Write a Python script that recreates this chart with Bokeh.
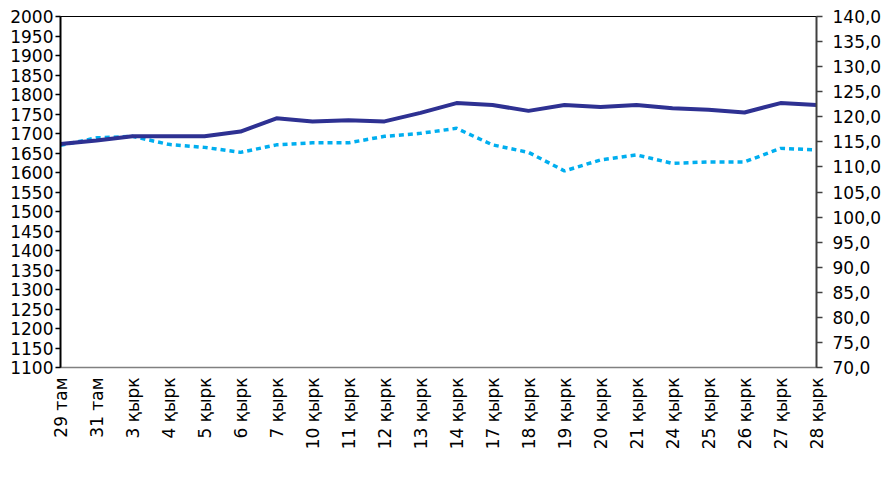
from bokeh.plotting import figure
from bokeh.models import Range1d, LinearAxis, FixedTicker, Legend, LegendItem
from bokeh.embed import file_html
from bokeh.resources import INLINE

dates = ["29 там", "31 там", "3 қырк", "4 қырк", "5 қырк", "6 қырк", "7 қырк",
         "10 қырк", "11 қырк", "12 қырк", "13 қырк", "14 қырк", "17 қырк", "18 қырк",
         "19 қырк", "20 қырк", "21 қырк", "24 қырк", "25 қырк", "26 қырк", "27 қырк", "28 қырк"]
gold = [1673, 1682, 1693, 1693, 1693, 1705, 1739, 1731, 1734, 1731, 1753, 1778,
        1773, 1758, 1773, 1768, 1773, 1765, 1761, 1754, 1778, 1773]
oil = [114.3, 115.8, 116.1, 114.5, 113.9, 112.9, 114.4, 114.8, 114.8, 116.1, 116.7, 117.7,
       114.4, 112.9, 109.2, 111.4, 112.4, 110.7, 111.0, 111.0, 113.7, 113.4]
left_ticks = list(range(1100, 2001, 50))
right_ticks = list(range(70, 141, 5))

FONT = "DejaVu Sans"
FS = "17px"
x = list(range(len(dates)))

p = figure(frame_width=756, frame_height=351, output_backend="svg", toolbar_location=None,
           x_range=Range1d(0, len(dates) - 1), y_range=Range1d(1100, 2000),
           min_border_left=60, min_border_right=68, min_border_top=16, min_border_bottom=0)
p.extra_y_ranges = {"oil": Range1d(70, 140)}
p.grid.visible = False
p.outline_line_color = "black"
p.outline_line_width = 1
p.background_fill_color = "white"
p.border_fill_color = "white"

# x axis
xa = p.xaxis[0]
xa.ticker = FixedTicker(ticks=x)
xa.major_label_overrides = {i: d for i, d in enumerate(dates)}
xa.major_label_orientation = 1.5708
xa.major_tick_line_color = None
xa.minor_tick_line_color = None
xa.axis_line_color = "#808080"
xa.axis_line_width = 1.5
xa.major_label_text_font = FONT
xa.major_label_text_font_size = FS
xa.major_label_text_color = "black"
xa.major_label_standoff = 4

# left axis
ya = p.yaxis[0]
ya.ticker = FixedTicker(ticks=left_ticks)
ya.minor_tick_line_color = None
ya.major_tick_in = 0
ya.major_tick_out = 5
ya.axis_line_color = "black"
ya.axis_line_width = 2
ya.major_tick_line_width = 1.5
ya.major_label_text_font = FONT
ya.major_label_text_font_size = FS
ya.major_label_text_color = "black"
ya.major_label_standoff = 2

# right axis
ra = LinearAxis(y_range_name="oil")
ra.ticker = FixedTicker(ticks=right_ticks)
ra.major_label_overrides = {v: f"{v:.1f}".replace(".", ",") for v in right_ticks}
ra.minor_tick_line_color = None
ra.major_tick_in = 0
ra.major_tick_out = 6
ra.axis_line_color = "#404040"
ra.axis_line_width = 2
ra.major_tick_line_width = 1.5
ra.major_tick_line_color = "#404040"
ra.major_label_text_font = FONT
ra.major_label_text_font_size = FS
ra.major_label_text_color = "black"
ra.major_label_standoff = 10
p.add_layout(ra, "right")

r_oil = p.line(x, oil, y_range_name="oil", line_color="#00AEEF", line_width=3.5,
               line_dash="5 4")
r_gold = p.line(x, gold, line_color="#2E3192", line_width=4)

legend = Legend(items=[LegendItem(label="алтын, тр. ун.", renderers=[r_gold]),
                       LegendItem(label="мұнай, барр. (қос. ось)", renderers=[r_oil])],
                orientation="horizontal", location="bottom_center",
                glyph_width=72, glyph_height=10, spacing=30, label_standoff=5,
                label_text_font=FONT, label_text_font_size=FS,
                border_line_color=None, background_fill_alpha=0,
                margin=0, padding=0)
p.add_layout(legend, "below")

open("out.html", "w").write(file_html(p, INLINE))
